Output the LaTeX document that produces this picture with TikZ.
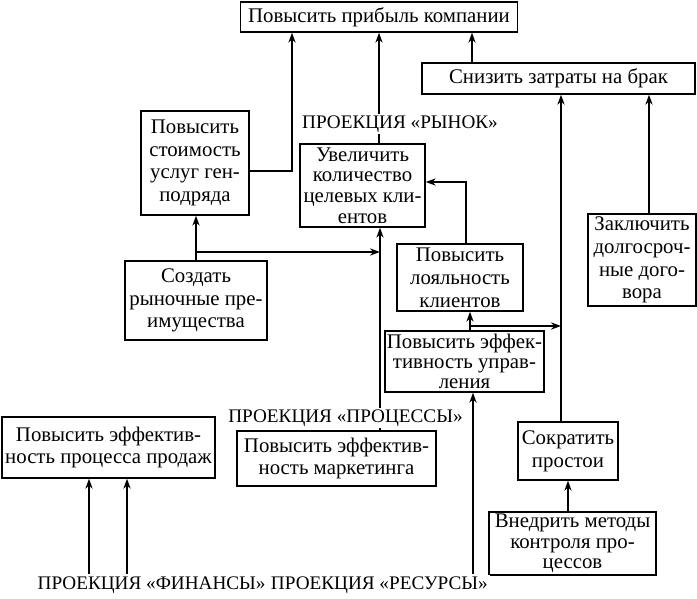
\documentclass[tikz,border=0pt]{standalone}
\usepackage{fontspec}
\setmainfont{Liberation Serif}
\usetikzlibrary{arrows, arrows.meta}
\usetikzlibrary{calc}

\begin{document}
\begin{tikzpicture}[x=0.5pt, y=-0.5pt, line width=0.7pt,
    goal/.style={draw, align=center, inner sep=1pt, font=\fontsize{10.4}{11.4}\selectfont},
    proj/.style={fill=white, inner sep=1pt, font=\fontsize{9.6}{11}\selectfont},
    >={Stealth[length=5pt, width=3.6pt]}]
      \useasboundingbox (0,0) rectangle (697,599);

      \node[goal, minimum width=138.5pt, minimum height=15pt] (1) at (379,17) {Повысить прибыль компании};
      \node[goal, minimum width=136.5pt, minimum height=15.5pt] (2) at (558.5,78.5) {Снизить затраты на брак};

      \node[goal, minimum width=54pt, minimum height=52pt] (3) at (195,163) {Повысить\\стоимость\\услуг ген-\\подряда};
      \node[goal, minimum width=62.5pt, minimum height=41.5pt, font=\fontsize{10.4}{10.3}\selectfont] (4) at (362.5,185.5) {Увеличить\\количество\\целевых кли-\\ентов};
      \node[goal, minimum width=63pt, minimum height=33.5pt] (5) at (460,277.5) {Повысить\\лояльность\\клиентов};
      \node[goal, minimum width=79.5pt, minimum height=30.5pt, font=\fontsize{10.4}{10}\selectfont] (6) at (464.5,361.5) {Повысить эффек-\\тивность управ-\\ления};
      \node[goal, minimum width=54pt, minimum height=46pt] (7) at (642,260) {Заключить\\долгосроч-\\ные дого-\\вора};
      \node[goal, minimum width=71pt, minimum height=39.5pt] (10) at (196,300.5) {Создать\\рыночные пре-\\имущества};

      \node[goal, minimum width=50pt, minimum height=29pt] (8) at (568,451) {Сократить\\простои};
      \node[goal, minimum width=83.5pt, minimum height=31.5pt, font=\fontsize{10.4}{10.2}\selectfont] (9) at (572.5,543.5) {Внедрить методы\\контроля про-\\цессов};
      \node[goal, minimum width=99.5pt, minimum height=27.5pt] (11) at (336.5,458.5) {Повысить эффектив-\\ность маркетинга};
      \node[goal, minimum width=106.5pt, minimum height=30.5pt] (12) at (108.5,447.5) {Повысить эффектив-\\ность процесса продаж};

      \node[proj, anchor=west] (15) at (35,585) {ПРОЕКЦИЯ «ФИНАНСЫ»};
      \node[proj, anchor=west] (16) at (15.east) {ПРОЕКЦИЯ «РЕСУРСЫ»};

      \coordinate (c1) at (472,0);
      \coordinate (c2) at (292,171);
      \coordinate (c3) at (380,0);
      \coordinate (c4) at (466,182);
      \coordinate (c5) at (470,326);
      \coordinate (c6) at (561,0);
      \coordinate (c7) at (649,0);
      \coordinate (c8) at (196,252);
      \coordinate (c9) at (89,0);
      \coordinate (c10) at (127,0);
      \coordinate (c11) at (473,0);

      \draw[->] (2.north -| c1) -- (1.south -| c1);
      \draw[->] (3.east |- c2) -| (1.south -| c2);
      \draw[->] (4.north -| 1.south) -- (1.south);
      \draw[->] (5.north -| c4) |- (4.east |- c4);
      \draw[->] (6.north -| c5) -- (5.south -| c5);
      \draw[->] (c5) -- (c5 -| c6);
      \draw[->] (8.north -| c6) -- (2.south -| c6);
      \draw[->] (7.north -| c7) -- (2.south -| c7);
      \draw[->] (9.north -| 8.south) -- (8.south);
      \draw[->] (10.north) -- (10.north |- 3.south);
      \draw[->] (c8) -- (c8 -| c3);
      \draw[->] (11.north -| c3) -- (4.south -| c3);
      \draw[->] (15.north -| c9) -- (12.south -| c9);
      \draw[->] (15.north -| c10) -- (12.south -| c10);
      \draw[->] (16.north -| c11) -- (6.south -| c11);

      \node[proj] (13) at (400,124) {ПРОЕКЦИЯ «РЫНОК»};
      \node[proj] (14) at (345.5,418) {ПРОЕКЦИЯ «ПРОЦЕССЫ»};

    \end{tikzpicture}
\end{document}
